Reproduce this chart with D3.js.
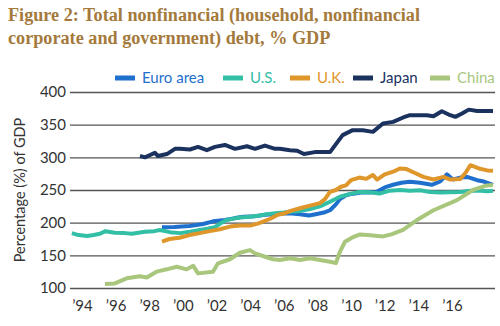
<!DOCTYPE html>
<html>
<head>
<meta charset="utf-8">
<script src="https://cdn.jsdelivr.net/npm/d3@7"></script>
<style>
  html, body { margin: 0; padding: 0; background: #fff; }
  svg { display: block; }
</style>
</head>
<body>
<div id="chart"></div>
<script>
// Total nonfinancial debt, % of GDP — [decimal year, value]
var euroArea = [
  [1998.76, 193], [1999.5, 193.5], [2000.4, 195], [2001.2, 198], [2001.8, 202],
  [2002.5, 204], [2003.1, 207], [2003.6, 209], [2004.3, 210], [2004.9, 212],
  [2005.4, 213], [2005.9, 214], [2006.5, 214], [2006.96, 213], [2007.5, 211],
  [2007.9, 213], [2008.45, 216], [2008.75, 219], [2009.1, 228], [2009.34, 236],
  [2009.7, 242], [2010.05, 244], [2010.6, 246], [2011.1, 246], [2011.5, 247],
  [2012.0, 254], [2012.5, 258], [2013.0, 261], [2013.5, 262.5], [2014.1, 261],
  [2014.8, 258], [2015.3, 263], [2015.7, 274], [2016.06, 266], [2016.5, 269],
  [2016.9, 270], [2017.5, 265], [2017.9, 263], [2018.44, 258]
];

var unitedStates = [
  [1993.4, 184], [1993.8, 181], [1994.3, 179.5], [1994.7, 181], [1995.07, 183],
  [1995.4, 187], [1995.96, 184.6], [1996.56, 184], [1996.97, 183], [1997.45, 185],
  [1997.75, 186], [1998.3, 187], [1998.64, 188.7], [1999.23, 185.5], [1999.83, 184],
  [2000.42, 186], [2001.02, 189], [2001.5, 191], [2001.9, 193], [2002.3, 200],
  [2002.6, 204], [2003.1, 206.6], [2003.4, 208], [2003.99, 209], [2004.6, 211],
  [2004.9, 212.7], [2005.5, 214.5], [2006.0, 215.5], [2006.5, 217], [2007.0, 218],
  [2007.56, 221], [2008.15, 225], [2008.75, 232], [2009.34, 239.6], [2009.9, 243.7],
  [2010.5, 247], [2011.1, 246.5], [2011.7, 244.5], [2012.3, 249], [2012.9, 250],
  [2013.5, 248.8], [2014.1, 249.5], [2014.7, 247], [2015.3, 246], [2015.9, 246.5],
  [2016.5, 247], [2017.1, 249], [2017.7, 249], [2018.1, 248], [2018.44, 249]
];

var unitedKingdom = [
  [1998.76, 171], [1999.2, 175], [1999.8, 177], [2000.4, 181], [2001.0, 184],
  [2001.6, 187], [2002.2, 190], [2002.8, 194], [2003.4, 195.5], [2004.0, 195.5],
  [2004.5, 199], [2005.2, 206], [2005.65, 212], [2006.0, 214], [2006.4, 218],
  [2006.96, 222], [2007.56, 226], [2008.15, 230], [2008.45, 236], [2008.75, 247],
  [2009.1, 250], [2009.4, 255], [2009.7, 257], [2010.0, 265], [2010.5, 269],
  [2010.9, 267], [2011.3, 273], [2011.55, 266], [2012.0, 274], [2012.6, 279],
  [2012.9, 283], [2013.3, 282], [2013.8, 276], [2014.3, 270], [2014.9, 266],
  [2015.5, 270], [2015.9, 266], [2016.5, 267], [2016.8, 276], [2017.1, 288],
  [2017.6, 283], [2018.1, 280], [2018.44, 279.5]
];

var japan = [
  [1997.45, 302], [1997.75, 300], [1998.34, 307], [1998.52, 302], [1999.05, 305],
  [1999.53, 313], [1999.83, 313], [2000.42, 312], [2000.9, 316], [2001.43, 311],
  [2001.91, 316], [2002.5, 319], [2003.1, 313], [2003.81, 317], [2004.29, 313],
  [2004.88, 318], [2005.48, 313], [2005.77, 313], [2006.37, 311], [2006.8, 310],
  [2007.2, 305], [2007.85, 308], [2008.75, 308], [2009.5, 334], [2010.1, 341.6],
  [2010.7, 341.6], [2011.3, 339], [2011.9, 351.8], [2012.5, 354.3], [2013.1, 361],
  [2013.5, 364.5], [2014.5, 364.5], [2014.9, 363], [2015.4, 370.6], [2015.9, 364.5],
  [2016.2, 362], [2016.6, 367], [2017.0, 373], [2017.5, 371], [2018.44, 371]
];

var china = [
  [1995.37, 106], [1995.96, 107], [1996.66, 114.8], [1997.45, 118], [1997.85, 116],
  [1998.44, 125], [1999.04, 128.6], [1999.63, 132.6], [2000.23, 128.6], [2000.62, 134],
  [2000.9, 122.4], [2001.79, 125], [2002.09, 137.8], [2002.8, 144], [2003.39, 154],
  [2003.99, 158], [2004.29, 153], [2004.76, 149], [2005.36, 144], [2005.77, 143],
  [2006.37, 145.4], [2006.96, 142.8], [2007.56, 145.4], [2008.15, 142.8], [2008.75, 140.3],
  [2009.1, 138], [2009.34, 155.5], [2009.64, 170.8], [2010.05, 177], [2010.53, 182],
  [2011.0, 181], [2011.9, 179], [2012.4, 182], [2013.09, 189], [2013.92, 204],
  [2014.9, 219], [2016.3, 234.5], [2017.25, 250], [2018.08, 257], [2018.44, 257.5]
];

var seriesNames = ["Euro area", "U.S.", "U.K.", "Japan", "China"];
var seriesData = [euroArea, unitedStates, unitedKingdom, japan, china];
var seriesColors = ["#1f6fcd", "#33bea6", "#df962b", "#1b325f", "#a8c67c"];

var yTicks = [100, 150, 200, 250, 300, 350, 400];
var xTickYears = [1994, 1996, 1998, 2000, 2002, 2004, 2006, 2008, 2010, 2012, 2014, 2016];
var xTickLabels = ["’94", "’96", "’98", "’00", "’02", "’04", "’06", "’08", "’10", "’12", "’14", "’16"];

var titleLines = [
  "Figure 2: Total nonfinancial (household, nonfinancial",
  "corporate and government) debt, % GDP"
];

var width = 500, height = 326;
var margin = { top: 92, right: 5, bottom: 38, left: 70 };
var sansFont = "Lato, 'Open Sans', sans-serif";

var svg = d3.select("#chart").append("svg")
  .attr("width", width)
  .attr("height", height);

var x = d3.scaleLinear()
  .domain([1993.29, 2018.56])
  .range([margin.left, width - margin.right]);

var y = d3.scaleLinear()
  .domain([100, 400])
  .range([height - margin.bottom, margin.top]);

// Title
svg.append("g")
  .selectAll("text")
  .data(titleLines)
  .join("text")
  .attr("x", 8)
  .attr("y", function (d, i) { return 21 + i * 23; })
  .attr("fill", "#a47a3c")
  .attr("font-family", "'Liberation Serif', 'DejaVu Serif', serif")
  .attr("font-weight", 700)
  .attr("font-size", 18.2)
  .text(function (d) { return d; });

// Horizontal grid + y labels
var yAxis = d3.axisLeft(y)
  .tickValues(yTicks)
  .tickSize(-(width - margin.left - margin.right))
  .tickPadding(4);

var yG = svg.append("g")
  .attr("transform", "translate(" + margin.left + ",0)")
  .call(yAxis);
yG.select(".domain").remove();
yG.selectAll(".tick line")
  .attr("stroke", "#555")
  .attr("stroke-width", 1.3);
yG.selectAll(".tick text")
  .attr("fill", "#333")
  .attr("font-family", sansFont)
  .attr("font-size", 15);

// Year labels
var xAxis = d3.axisBottom(x)
  .tickValues(xTickYears)
  .tickSize(0)
  .tickPadding(12)
  .tickFormat(function (d, i) { return xTickLabels[i]; });

var xG = svg.append("g")
  .attr("transform", "translate(0," + (height - margin.bottom) + ")")
  .call(xAxis);
xG.select(".domain").remove();
xG.selectAll(".tick text")
  .attr("fill", "#333")
  .attr("font-family", sansFont)
  .attr("font-size", 15);

// Y axis title
svg.append("text")
  .attr("transform", "translate(25," + ((margin.top + height - margin.bottom) / 2) + ") rotate(-90)")
  .attr("text-anchor", "middle")
  .attr("fill", "#333")
  .attr("font-family", sansFont)
  .attr("font-size", 14.5)
  .text("Percentage (%) of GDP");

// Lines
var line = d3.line()
  .x(function (d) { return x(d[0]); })
  .y(function (d) { return y(d[1]); });

svg.append("g")
  .selectAll("path")
  .data(seriesData)
  .join("path")
  .attr("d", line)
  .attr("fill", "none")
  .attr("stroke", function (d, i) { return seriesColors[i]; })
  .attr("stroke-width", 4)
  .attr("stroke-linejoin", "round");

// Legend
var legendX = [115, 223, 290, 353, 430];
var legend = svg.append("g")
  .selectAll("g")
  .data(seriesNames)
  .join("g")
  .attr("transform", function (d, i) { return "translate(" + legendX[i] + ",78)"; });

legend.append("line")
  .attr("x1", 0).attr("x2", 20)
  .attr("stroke", function (d, i) { return seriesColors[i]; })
  .attr("stroke-width", 5);

legend.append("text")
  .attr("x", 27)
  .attr("dy", "0.35em")
  .attr("fill", function (d, i) { return seriesColors[i]; })
  .attr("font-family", sansFont)
  .attr("font-size", 15)
  .text(function (d) { return d; });
</script>
</body>
</html>
